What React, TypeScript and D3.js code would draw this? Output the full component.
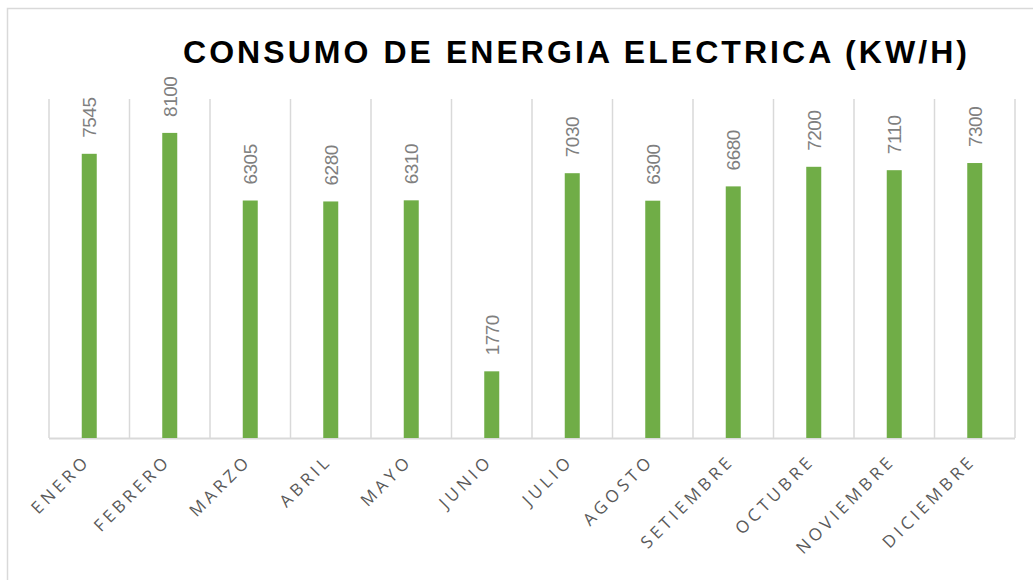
import { useEffect, useRef } from 'react';
import * as d3 from 'd3';

const months = ['ENERO', 'FEBRERO', 'MARZO', 'ABRIL', 'MAYO', 'JUNIO', 'JULIO', 'AGOSTO', 'SETIEMBRE', 'OCTUBRE', 'NOVIEMBRE', 'DICIEMBRE'];
const consumo = [7545, 8100, 6305, 6280, 6310, 1770, 7030, 6300, 6680, 7200, 7110, 7300];
const yMax = 9000;
const title = 'CONSUMO DE ENERGIA ELECTRICA (KW/H)';

export default function App() {
  const svgRef = useRef<SVGSVGElement>(null);

  useEffect(() => {
    if (!svgRef.current) return;
    const svg = d3.select(svgRef.current);
    svg.selectAll('*').remove();

    const width = 1033;
    const height = 580;
    const margin = { top: 99, right: 18, bottom: 142, left: 49 };
    const innerWidth = width - margin.left - margin.right;
    const innerHeight = height - margin.top - margin.bottom;

    // chart frame (runs off the right / bottom edge like the original)
    svg.append('rect')
      .attr('x', 7.5).attr('y', 8.5)
      .attr('width', 1060).attr('height', 620)
      .attr('fill', '#fff')
      .attr('stroke', '#d9d9d9')
      .attr('stroke-width', 1.5);

    svg.append('text')
      .attr('x', 183).attr('y', 63)
      .attr('textLength', 784)
      .attr('lengthAdjust', 'spacing')
      .style('font-family', '"Liberation Sans", Arial, sans-serif')
      .style('font-weight', 'bold')
      .style('font-size', '32px')
      .style('fill', '#000')
      .text(title);

    const x = d3.scaleBand().domain(months).range([0, innerWidth]).paddingInner(0).paddingOuter(0);
    const y = d3.scaleLinear().domain([0, yMax]).range([innerHeight, 0]);

    const g = svg.append('g').attr('transform', `translate(${margin.left},${margin.top})`);

    // vertical category gridlines
    const edges = months.map(m => x(m) as number).concat([innerWidth]);
    g.selectAll('.grid')
      .data(edges)
      .enter()
      .append('line')
      .attr('x1', d => d).attr('x2', d => d)
      .attr('y1', 0).attr('y2', innerHeight)
      .style('stroke', '#d9d9d9')
      .style('stroke-width', 1.5);

    // baseline
    g.append('line')
      .attr('x1', 0).attr('x2', innerWidth)
      .attr('y1', innerHeight + 0.5).attr('y2', innerHeight + 0.5)
      .style('stroke', '#d9d9d9')
      .style('stroke-width', 2);

    const barW = 15;
    g.selectAll('.bar')
      .data(consumo)
      .enter()
      .append('rect')
      .attr('x', (d, i) => (x(months[i]) as number) + x.bandwidth() / 2 - barW / 2)
      .attr('y', d => y(d))
      .attr('width', barW)
      .attr('height', d => innerHeight - y(d))
      .attr('fill', '#70ad47');

    // value labels, rotated
    g.selectAll('.value')
      .data(consumo)
      .enter()
      .append('text')
      .attr('transform', (d, i) => `translate(${(x(months[i]) as number) + x.bandwidth() / 2 + 7},${y(d) - 16}) rotate(-90)`)
      .style('font-family', '"Liberation Sans", Arial, sans-serif')
      .style('font-size', '19px')
      .style('letter-spacing', '-0.5px')
      .style('fill', '#7f7f7f')
      .text(d => String(d));

    // month labels at -45deg
    g.selectAll('.month')
      .data(months)
      .enter()
      .append('text')
      .attr('transform', d => `translate(${(x(d) as number) + x.bandwidth() / 2 + 2},${innerHeight + 24}) rotate(-45)`)
      .attr('text-anchor', 'end')
      .style('font-family', '"Open Sans", "Liberation Sans", Arial, sans-serif')
      .style('font-size', '17px')
      .style('letter-spacing', '3.9px')
      .style('fill', '#595959')
      .text(d => d);
  }, []);

  return (
    <svg
      ref={svgRef}
      width={1033}
      height={580}
      style={{ position: 'absolute', left: 0, top: 0, background: '#fff' }}
    />
  );
}
